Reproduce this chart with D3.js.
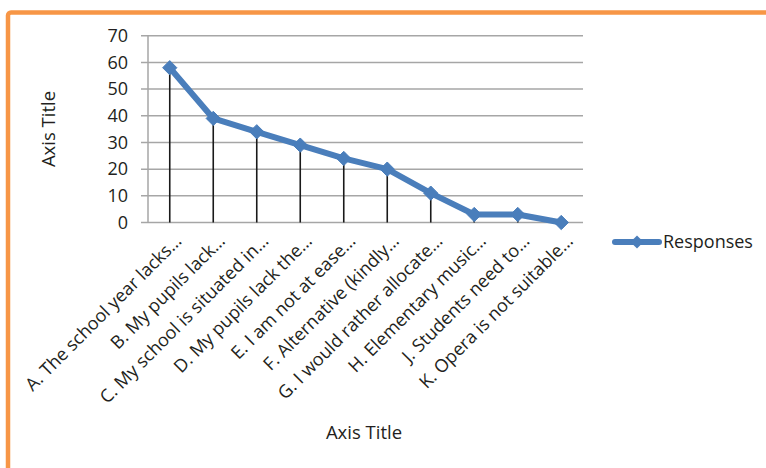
<!DOCTYPE html>
<html>
<head>
<meta charset="utf-8">
<script src="https://cdn.jsdelivr.net/npm/d3@7"></script>
<style>
  html, body { margin: 0; padding: 0; background: #fff; }
  svg { display: block; font-family: "Open Sans", "Noto Sans", sans-serif; }
</style>
</head>
<body>
<svg id="chart" width="766" height="468"></svg>
<script>
// Survey responses per reason
const categories = [
  "A. The school year lacks…",
  "B. My pupils lack…",
  "C. My school is situated in…",
  "D. My pupils lack the…",
  "E. I am not at ease…",
  "F. Alternative (kindly…",
  "G. I would rather allocate…",
  "H. Elementary music…",
  "J. Students need to…",
  "K. Opera is not suitable…"
];
const responses = [58, 39, 34, 29, 24, 20, 11, 3, 3, 0];
const yTicks = [0, 10, 20, 30, 40, 50, 60, 70];
const seriesName = "Responses";
const xTitle = "Axis Title";
const yTitle = "Axis Title";

const svg = d3.select("#chart");
const textColor = "#231f20";
const gridColor = "#a6a6a6";
const lineColor = "#4a7ebb";

// outer frame
svg.append("rect")
  .attr("x", 8).attr("y", 12.5)
  .attr("width", 820).attr("height", 520)
  .attr("rx", 3)
  .attr("fill", "none")
  .attr("stroke", "#f79646")
  .attr("stroke-width", 4.5);

const plot = { left: 148, right: 583, top: 35.7, bottom: 222.5 };

const x = d3.scaleBand()
  .domain(categories)
  .range([plot.left, plot.right])
  .paddingInner(0).paddingOuter(0);

const y = d3.scaleLinear()
  .domain([0, 70])
  .range([plot.bottom, plot.top]);

// horizontal gridlines with short outside ticks
svg.append("g")
  .selectAll("line")
  .data(yTicks)
  .join("line")
  .attr("x1", plot.left - 7)
  .attr("x2", plot.right)
  .attr("y1", d => y(d))
  .attr("y2", d => y(d))
  .attr("stroke", gridColor)
  .attr("stroke-width", 1.5);

// vertical axis line
svg.append("line")
  .attr("x1", plot.left).attr("x2", plot.left)
  .attr("y1", y(70)).attr("y2", y(0))
  .attr("stroke", gridColor)
  .attr("stroke-width", 1.5);

// y tick labels
svg.append("g")
  .selectAll("text")
  .data(yTicks)
  .join("text")
  .attr("x", 128)
  .attr("y", d => y(d))
  .attr("dy", "0.35em")
  .attr("text-anchor", "end")
  .attr("font-size", 18)
  .attr("fill", textColor)
  .text(d => d);

// drop lines from each point to the axis
const cx = d => x(d) + x.bandwidth() / 2;
svg.append("g")
  .selectAll("line")
  .data(categories)
  .join("line")
  .attr("x1", d => cx(d))
  .attr("x2", d => cx(d))
  .attr("y1", (d, i) => y(responses[i]))
  .attr("y2", y(0))
  .attr("stroke", "#1a1a1a")
  .attr("stroke-width", 1.6);

// series line
const pts = categories.map((c, i) => [cx(c), y(responses[i])]);
svg.append("path")
  .attr("d", d3.line()(pts))
  .attr("fill", "none")
  .attr("stroke", lineColor)
  .attr("stroke-width", 6)
  .attr("stroke-linejoin", "round");

// diamond markers
const diamond = d3.symbol().type(d3.symbolDiamond2).size(130);
svg.append("g")
  .selectAll("path")
  .data(pts)
  .join("path")
  .attr("transform", d => `translate(${d[0]},${d[1]})`)
  .attr("d", diamond)
  .attr("fill", lineColor)
  .attr("stroke", lineColor)
  .attr("stroke-width", 1);

// category labels, rotated
svg.append("g")
  .selectAll("text")
  .data(categories)
  .join("text")
  .attr("transform", d => `translate(${cx(d) + 13},${242}) rotate(-45)`)
  .attr("text-anchor", "end")
  .attr("font-size", 18)
  .attr("fill", textColor)
  .text(d => d);

// axis titles
svg.append("text")
  .attr("x", 364).attr("y", 439)
  .attr("text-anchor", "middle")
  .attr("font-size", 18.5)
  .attr("fill", textColor)
  .text(xTitle);

svg.append("text")
  .attr("transform", "translate(55,129) rotate(-90)")
  .attr("text-anchor", "middle")
  .attr("font-size", 18.5)
  .attr("fill", textColor)
  .text(yTitle);

// legend
const lg = svg.append("g").attr("transform", "translate(615,242)");
lg.append("line")
  .attr("x1", 0).attr("x2", 44)
  .attr("y1", 0).attr("y2", 0)
  .attr("stroke", lineColor)
  .attr("stroke-width", 6)
  .attr("stroke-linecap", "round");
lg.append("path")
  .attr("transform", "translate(22,0)")
  .attr("d", d3.symbol().type(d3.symbolDiamond2).size(110))
  .attr("fill", lineColor);
lg.append("text")
  .attr("x", 48).attr("y", 0)
  .attr("dy", "0.35em")
  .attr("font-size", 18)
  .attr("fill", textColor)
  .text(seriesName);
</script>
</body>
</html>
